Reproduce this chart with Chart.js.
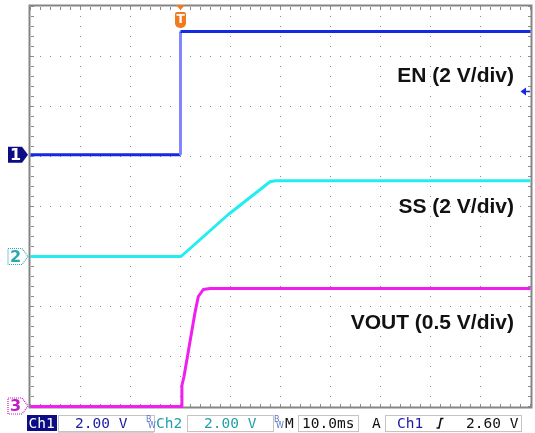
<!DOCTYPE html>
<html>
<head>
<meta charset="utf-8">
<script src="https://cdn.jsdelivr.net/npm/chart.js@4.4.1/dist/chart.umd.min.js"></script>
<style>
  html, body { margin: 0; padding: 0; background: #fff; }
  #wrap { width: 535px; height: 433px; }
</style>
</head>
<body>
<div id="wrap"><canvas id="scope" width="535" height="433"></canvas></div>
<script>
// time axis in ms, trigger at 0, 10 ms/div
const timeRange = [-30, 70];

// Ch1 - EN, 2 V/div
const enTime  = [-30, 0, 0, 70];
const enVolts = [0.07, 0.07, 5.0, 5.0];

// Ch2 - SS, 2 V/div
const ssTime  = [-30, 0.1, 9.5, 17.9, 18.9, 70];
const ssVolts = [0, 0, 1.67, 2.99, 3.03, 3.03];

// Ch3 - VOUT, 0.5 V/div
const voutTime  = [-30, 0.24, 0.28, 0.7, 2.9, 3.56, 4.56, 5.9, 70];
const voutVolts = [0, 0, 0.21, 0.30, 0.94, 1.10, 1.17, 1.18, 1.18];

const channelLabels = ['EN (2 V/div)', 'SS (2 V/div)', 'VOUT (0.5 V/div)'];
const triggerLevel = 2.6; // V on Ch1

const EN_COL = '#1428e6', SS_COL = '#22eef2', VOUT_COL = '#f01ef0';

function toPoints(t, v) {
    return t.map((x, i) => ({x: x, y: v[i]}));
}

// dotted scope graticule, 10 x 8 divisions
const scopeGrid = {
    id: 'scopeGrid',
    beforeDatasetsDraw(chart) {
        const ctx = chart.ctx, a = chart.chartArea;
        const xs = chart.scales.x, ys = chart.scales.y3;
        const divX = [], divY = [];
        for (let t = timeRange[0]; t <= timeRange[1]; t += 10) divX.push(xs.getPixelForValue(t));
        for (let v = 0; v <= 4; v += 0.5) divY.push(ys.getPixelForValue(v));
        const sx = (divX[1] - divX[0]) / 5, sy = (divY[0] - divY[1]) / 5;
        ctx.save();
        ctx.fillStyle = '#8a8a8a';
        const dot = (x, y) => ctx.fillRect(Math.round(x - 0.5), Math.round(y - 0.5), 1, 1);
        for (let i = 1; i < divX.length - 1; i++)
            for (let y = a.top; y <= a.bottom + 0.5; y += sy) dot(divX[i], y);
        for (let j = 1; j < divY.length - 1; j++)
            for (let x = a.left; x <= a.right + 0.5; x += sx) dot(x, divY[j]);
        // small ticks along the frame
        for (let y = a.top; y <= a.bottom + 0.5; y += sy) {
            ctx.fillRect(Math.round(a.left), Math.round(y - 0.5), 3, 1);
            ctx.fillRect(Math.round(a.right - 3), Math.round(y - 0.5), 3, 1);
        }
        for (let x = a.left; x <= a.right + 0.5; x += sx) {
            ctx.fillRect(Math.round(x - 0.5), Math.round(a.top), 1, 3);
            ctx.fillRect(Math.round(x - 0.5), Math.round(a.bottom - 3), 1, 3);
        }
        ctx.strokeStyle = '#858585';
        ctx.lineWidth = 2;
        ctx.strokeRect(a.left - 1, a.top - 1, a.right - a.left + 2, a.bottom - a.top + 2);
        ctx.restore();
    }
};

function chanMarker(ctx, y, label, fill, color) {
    ctx.save();
    ctx.beginPath();
    ctx.moveTo(8, y - 8); ctx.lineTo(22, y - 8); ctx.lineTo(28, y);
    ctx.lineTo(22, y + 8); ctx.lineTo(8, y + 8); ctx.closePath();
    if (fill) {
        ctx.fillStyle = color; ctx.fill();
    } else {
        ctx.setLineDash([1, 1]);
        ctx.strokeStyle = color; ctx.lineWidth = 1.2; ctx.stroke();
    }
    ctx.fillStyle = fill ? '#fff' : color;
    ctx.font = 'bold 16px "DejaVu Sans"';
    ctx.textAlign = 'center'; ctx.textBaseline = 'middle';
    ctx.fillText(label, 15.5, y + 1);
    ctx.restore();
}

const scopeDecor = {
    id: 'scopeDecor',
    afterDraw(chart) {
        const ctx = chart.ctx;
        const xs = chart.scales.x;
        ctx.save();

        // channel labels
        ctx.fillStyle = '#111';
        ctx.font = 'bold 20px "Liberation Sans"';
        ctx.textAlign = 'right';
        [[channelLabels[0], 81.5], [channelLabels[1], 213], [channelLabels[2], 328.5]].forEach(l => {
            ctx.save();
            ctx.translate(514, l[1]);
            ctx.scale(1.05, 1);
            ctx.fillText(l[0], 0, 0);
            ctx.restore();
        });

        // ground markers
        chanMarker(ctx, chart.scales.y1.getPixelForValue(enVolts[0]), '1', true, '#0c0c84');
        chanMarker(ctx, chart.scales.y2.getPixelForValue(0), '2', false, '#2aa8b0');
        chanMarker(ctx, chart.scales.y3.getPixelForValue(0) - 0.5, '3', false, '#c01cc0');

        // trigger position
        const tx = xs.getPixelForValue(0);
        ctx.fillStyle = '#f07a1e';
        ctx.beginPath();
        ctx.moveTo(tx - 4.5, 5); ctx.lineTo(tx + 4.5, 5); ctx.lineTo(tx, 10); ctx.closePath();
        ctx.fill();
        ctx.beginPath();
        ctx.roundRect(tx - 5.5, 12, 11, 16, [2, 2, 5, 5]);
        ctx.fill();
        ctx.fillStyle = '#fff';
        ctx.font = 'bold 12px "DejaVu Sans"';
        ctx.textAlign = 'center'; ctx.textBaseline = 'middle';
        ctx.fillText('T', tx, 19.5);

        // trigger level arrow
        const ty = chart.scales.y1.getPixelForValue(triggerLevel);
        ctx.fillStyle = EN_COL; ctx.strokeStyle = EN_COL; ctx.lineWidth = 1.5;
        ctx.beginPath();
        ctx.moveTo(520.5, ty); ctx.lineTo(526, ty - 4); ctx.lineTo(526, ty + 4); ctx.closePath();
        ctx.fill();
        ctx.beginPath(); ctx.moveTo(525, ty); ctx.lineTo(530, ty); ctx.stroke();

        // status bar
        ctx.textAlign = 'left'; ctx.textBaseline = 'alphabetic';
        ctx.font = '14.5px "DejaVu Sans Mono"';
        const box = (x0, x1) => {
            ctx.strokeStyle = '#c4c4c4'; ctx.lineWidth = 1;
            ctx.strokeRect(x0 + 0.5, 415.5, x1 - x0, 16);
        };
        const bw = (x) => {
            ctx.save();
            ctx.font = '8px "DejaVu Sans"';
            ctx.fillStyle = '#5a78c8';
            ctx.fillText('B', x, 422);
            ctx.fillText('W', x + 2, 428);
            ctx.restore();
        };
        ctx.fillStyle = '#0c0c84';
        ctx.fillRect(27, 415, 30, 16);
        ctx.fillStyle = '#fff';
        ctx.fillText('Ch1', 28.5, 428);
        box(58, 154);
        ctx.fillStyle = '#1c1ca0';
        ctx.fillText('2.00 V', 75, 428);
        bw(146);
        ctx.fillStyle = '#22a0a8';
        ctx.fillText('Ch2', 156, 428);
        box(187, 273);
        ctx.fillText('2.00 V', 204, 428);
        bw(274);
        ctx.fillStyle = '#111';
        ctx.fillText('M', 285, 428);
        box(298, 358);
        ctx.fillText('10.0ms', 302, 428);
        ctx.fillText('A', 372, 428);
        box(385, 521);
        ctx.fillStyle = '#1c1ca0';
        ctx.fillText('Ch1', 397, 428);
        ctx.strokeStyle = '#111'; ctx.lineWidth = 1.6;
        ctx.beginPath();
        ctx.moveTo(436.5, 428); ctx.lineTo(439, 428); ctx.lineTo(441, 418.5); ctx.lineTo(443.5, 418.5);
        ctx.stroke();
        ctx.fillStyle = '#111';
        ctx.fillText('2.60 V', 466, 428);
        // top edge of the next status row
        ctx.strokeStyle = '#d0d0d0'; ctx.lineWidth = 1;
        ctx.beginPath(); ctx.moveTo(58, 432.5); ctx.lineTo(154, 432.5); ctx.stroke();

        ctx.restore();
    }
};

const scopeChart = new Chart(document.getElementById('scope').getContext('2d'), {
    type: 'line',
    data: {
        datasets: [{
            label: 'EN',
            data: toPoints(enTime, enVolts),
            yAxisID: 'y1',
            borderColor: EN_COL,
            borderWidth: 3,
            segment: {
                borderColor: c => c.p0.parsed.x === c.p1.parsed.x ? '#7f86ff' : undefined
            }
        }, {
            label: 'SS',
            data: toPoints(ssTime, ssVolts),
            yAxisID: 'y2',
            borderColor: SS_COL,
            borderWidth: 3
        }, {
            label: 'VOUT',
            data: toPoints(voutTime, voutVolts),
            yAxisID: 'y3',
            borderColor: VOUT_COL,
            borderWidth: 3
        }]
    },
    options: {
        responsive: false,
        animation: false,
        events: [],
        layout: { padding: { left: 30.5, right: 4.5, top: 6.5, bottom: 26.5 } },
        elements: { point: { radius: 0 }, line: { tension: 0, borderJoinStyle: 'round' } },
        datasets: { line: { clip: 4 } },
        plugins: { legend: { display: false }, tooltip: { enabled: false } },
        scales: {
            x: { type: 'linear', min: timeRange[0], max: timeRange[1], display: false },
            y1: { type: 'linear', min: -10, max: 6, display: false },
            y2: { type: 'linear', min: -6, max: 10, display: false },
            y3: { type: 'linear', min: 0, max: 4, display: false }
        }
    },
    plugins: [scopeGrid, scopeDecor]
});
</script>
</body>
</html>
